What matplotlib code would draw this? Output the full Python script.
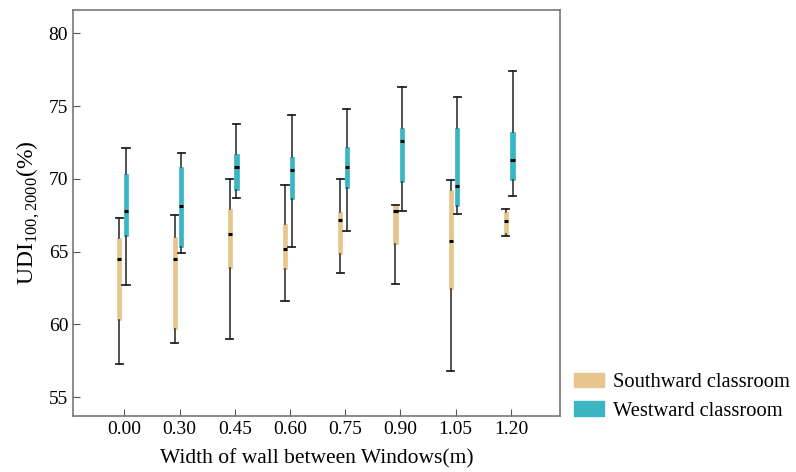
import matplotlib
matplotlib.use("Agg")
import matplotlib.pyplot as plt
from matplotlib.patches import Patch

plt.rcParams['font.family'] = ['Liberation Serif', 'DejaVu Serif']
plt.rcParams['mathtext.fontset'] = 'custom'
plt.rcParams['mathtext.rm'] = 'Liberation Serif'

categories = ["0.00", "0.30", "0.45", "0.60", "0.75", "0.90", "1.05", "1.20"]

# Southward classroom: whisker low, Q1, median, Q3, whisker high
south_low = [57.3, 58.7, 59.0, 61.6, 63.5, 62.8, 56.8, 66.1]
south_q1 = [60.3, 59.7, 63.9, 63.8, 64.8, 65.5, 62.4, 66.2]
south_med = [64.5, 64.5, 66.2, 65.2, 67.2, 67.8, 65.7, 67.1]
south_q3 = [65.9, 66.0, 67.9, 66.9, 67.7, 68.2, 69.2, 67.7]
south_high = [67.3, 67.5, 70.0, 69.6, 70.0, 68.2, 69.9, 67.9]

# Westward classroom
west_low = [62.7, 64.9, 68.7, 65.3, 66.4, 67.8, 67.6, 68.8]
west_q1 = [66.1, 65.3, 69.2, 68.6, 69.4, 69.8, 68.1, 69.9]
west_med = [67.8, 68.1, 70.8, 70.6, 70.8, 72.6, 69.5, 71.3]
west_q3 = [70.3, 70.8, 71.7, 71.5, 72.2, 73.5, 73.5, 73.2]
west_high = [72.1, 71.8, 73.8, 74.4, 74.8, 76.3, 75.6, 77.4]

series_names = ["Southward classroom", "Westward classroom"]
colors = ["#E6C68E", "#3AB5C1"]

fig = plt.figure(figsize=(7.96, 4.72), dpi=100)
ax = fig.add_axes([73 / 796, 1 - 416 / 472, (560 - 73) / 796, (416 - 10) / 472])

def make_stats(lo, q1, med, q3, hi):
    return [dict(whislo=a, q1=b, med=c, q3=d, whishi=e, fliers=[])
            for a, b, c, d, e in zip(lo, q1, med, q3, hi)]

groups = [
    (make_stats(south_low, south_q1, south_med, south_q3, south_high), -0.09, colors[0]),
    (make_stats(west_low, west_q1, west_med, west_q3, west_high), 0.03, colors[1]),
]

n = len(categories)
for stats, off, col in groups:
    pos = [i + off for i in range(n)]
    ax.bxp(stats, positions=pos, widths=0.075, capwidths=0.13,
           patch_artist=True, showfliers=False, manage_ticks=False,
           boxprops=dict(facecolor=col, edgecolor=col, linewidth=0.5),
           whiskerprops=dict(color="#222222", linewidth=1.1),
           capprops=dict(color="#222222", linewidth=1.3),
           medianprops=dict(color="black", linewidth=2.2, solid_capstyle="butt"),
           zorder=3)

ax.set_xlim(-0.93, 7.89)
ax.set_ylim(53.7, 81.6)
ax.set_xticks(range(n))
ax.set_xticklabels(categories)
ax.set_yticks([55, 60, 65, 70, 75, 80])
ax.tick_params(direction="in", length=5, labelsize=14, color="#555555")
for s in ax.spines.values():
    s.set_color("#777777")
    s.set_linewidth(1.2)

ax.set_xlabel("Width of wall between Windows(m)", fontsize=15.5, labelpad=8)
ax.set_ylabel(r"UDI$_{\mathrm{100,2000}}$(%)", fontsize=17, labelpad=5)

handles = [Patch(facecolor=c, edgecolor=c) for c in colors]
fig.legend(handles, series_names, loc="lower left",
           bbox_to_anchor=(574 / 796, 1 - 421 / 472), frameon=False,
           borderpad=0, borderaxespad=0,
           fontsize=14.8, handlelength=1.46, handleheight=0.73,
           handletextpad=0.44, labelspacing=0.45)

fig.savefig("out.png", dpi=100)
